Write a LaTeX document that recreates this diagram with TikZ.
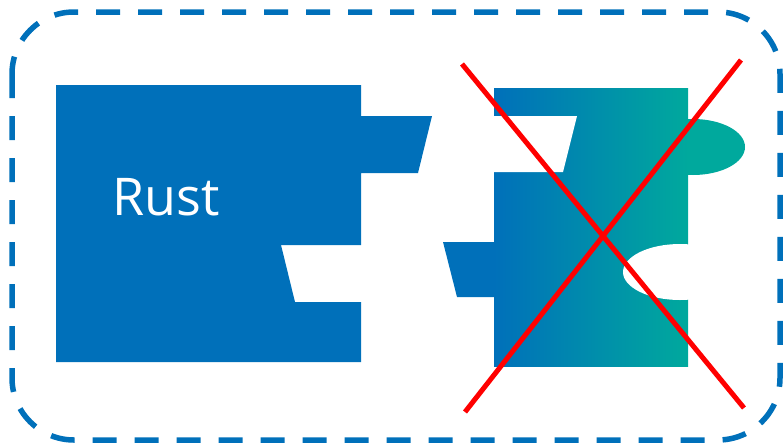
\documentclass[tikz,border=0pt]{standalone}
\usepackage{fontspec}
\setmainfont{Open Sans}
\usetikzlibrary{calc}
\definecolor{primary}{HTML}{0070BA}
\definecolor{tealish}{HTML}{00A99D}

\begin{document}
\begin{tikzpicture}[x=1pt, y=-1pt,
    piece/.style={fill=primary, draw=none},
    cross/.style={draw=red, line width=5pt},
    frame/.style={draw=primary, line width=5.5pt, dash pattern=on 24pt off 18pt, rounded corners=62pt},
]
\useasboundingbox (0,0) rectangle (784,445);
\draw[frame] (12,12) rectangle (780,440);

% left piece
\fill[piece] (56,85) -- (361,85) -- (361,116) -- (432,116) -- (418,173) -- (361,173) -- (361,245) -- (281,245) -- (295,302) -- (361,302) -- (361,362) -- (56,362) -- cycle;
\node[text=white, inner sep=0pt, font=\fontsize{52}{52}\selectfont, anchor=base west] (rust) at (112,215) {Rust};

% right piece
\shade[left color=primary, right color=tealish] (494,88) rectangle (688,366);
\fill[white] (494,116) -- (577,116) -- (563,172) -- (494,172) -- cycle;
\fill[white] (680,272) ellipse [x radius=57, y radius=28];
\fill[piece] (494,242) -- (443,242) -- (457,297) -- (494,297) -- cycle;
\begin{scope}
\clip (688,100) rectangle (760,200);
\fill[tealish] (693,147) ellipse [x radius=52, y radius=28];
\end{scope}

% cross
\coordinate (a1) at (462,64);
\coordinate (a2) at (744,408);
\coordinate (b1) at (465,412);
\coordinate (b2) at (741,60);
\draw[cross] (a1) -- (a2);
\draw[cross] (b1) -- (b2);

\end{tikzpicture}
\end{document}
